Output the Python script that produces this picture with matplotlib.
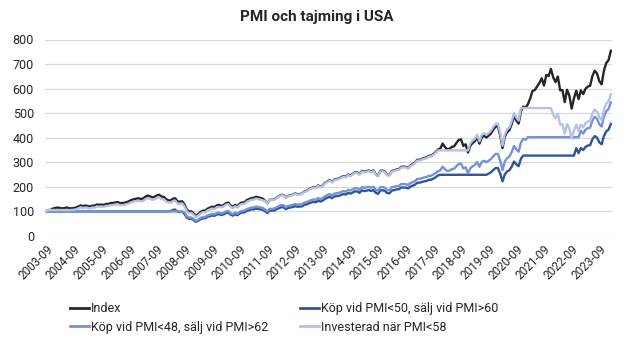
import numpy as np
import pandas as pd
import matplotlib
matplotlib.use("Agg")
import matplotlib.pyplot as plt
from matplotlib.lines import Line2D

# monthly values, 2003-09 .. 2024-02
start_month = "2003-09"

index_vals = [
    100.0, 105.7, 106.5, 112.2,
    114.3, 115.9, 114.2, 112.3, 114.0, 116.2, 112.4, 112.8, 114.1, 115.9, 120.5, 124.6,
    121.6, 124.2, 122.0, 119.7, 123.5, 123.6, 128.2, 127.0, 128.1, 126.0, 130.5, 130.7,
    134.3, 134.5, 136.2, 138.2, 134.0, 134.3, 135.3, 138.2, 141.9, 146.7, 149.3, 151.4,
    153.8, 150.6, 152.4, 159.2, 164.6, 161.9, 157.1, 159.2, 165.3, 167.9, 160.7, 159.6,
    150.2, 145.3, 144.6, 151.8, 153.6, 140.7, 139.5, 141.6, 128.8, 107.3, 99.4, 100.4,
    92.0, 82.1, 89.3, 97.8, 103.2, 103.3, 111.2, 115.2, 119.5, 117.3, 124.4, 126.7,
    122.3, 125.9, 133.6, 135.9, 124.8, 118.4, 126.8, 120.9, 131.8, 136.9, 136.9, 146.0,
    149.5, 154.5, 154.7, 159.4, 157.4, 154.9, 151.8, 143.5, 133.4, 147.9, 147.5, 149.0,
    155.7, 162.4, 167.7, 166.8, 156.5, 163.0, 165.4, 169.0, 173.3, 170.1, 170.9, 172.4,
    181.4, 183.7, 190.6, 194.4, 198.8, 196.0, 206.2, 200.1, 206.4, 215.9, 222.3, 227.8,
    220.2, 229.9, 231.9, 233.8, 239.2, 244.0, 240.8, 250.2, 246.7, 252.8, 259.5, 258.8,
    251.2, 265.4, 261.2, 263.9, 266.9, 261.8, 267.4, 251.1, 244.9, 265.5, 266.0, 261.8,
    249.1, 248.5, 265.3, 266.4, 270.9, 271.6, 281.8, 281.9, 281.9, 276.9, 286.8, 292.7,
    298.4, 309.9, 310.3, 313.6, 317.8, 319.7, 326.4, 327.1, 333.8, 341.7, 352.1, 356.0,
    376.5, 362.4, 353.2, 354.7, 362.9, 365.1, 378.8, 391.1, 393.3, 366.5, 373.5, 339.8,
    367.1, 378.4, 385.8, 401.7, 375.8, 402.3, 408.1, 401.3, 408.9, 417.9, 432.7, 445.7,
    445.7, 408.7, 358.1, 404.1, 423.0, 431.3, 455.8, 488.4, 470.1, 457.6, 507.7, 527.2,
    522.1, 536.4, 560.1, 590.2, 594.3, 608.4, 623.1, 642.1, 612.4, 655.6, 651.1, 680.4,
    645.6, 626.3, 649.5, 593.3, 594.1, 544.9, 595.5, 571.0, 518.4, 560.6, 591.5, 557.4,
    592.7, 578.0, 599.1, 608.6, 611.1, 651.4, 672.6, 661.7, 630.3, 617.3, 673.2, 704.0,
    716.1, 754.1,
]

pmi50_vals = (
    [100.0] * 52
    + [100.0, 100.0, 101.2, 106.3, 107.5, 98.5, 97.7, 99.1, 90.2, 75.1, 69.6, 70.3,
       64.4, 57.5, 62.5, 68.5, 72.2, 72.3, 77.8, 80.6, 83.7, 82.1, 87.1, 88.7,
       85.6, 88.1, 93.5, 95.1, 87.4, 82.9, 88.8, 84.6, 92.3, 95.8, 95.8, 102.2,
       104.7, 108.2, 108.3, 111.6, 110.2, 108.4, 106.3, 100.5, 93.4, 103.5, 103.3, 104.3,
       109.0, 113.7, 117.4, 116.8, 109.6, 114.1, 115.8, 118.3, 121.3, 119.1, 119.6, 120.7,
       127.0, 128.6, 133.4, 136.1, 139.2, 137.2, 144.3, 140.1, 144.5, 151.1, 155.6, 159.5,
       154.1, 160.9, 162.3, 163.7, 167.4, 170.8, 168.6, 175.1, 172.7, 177.0, 181.7, 181.2,
       175.8, 185.8, 182.8, 184.7, 186.8, 183.3, 187.2, 175.8, 171.4, 185.9, 186.2, 183.3,
       174.4, 174.0, 185.7, 186.5, 189.6, 190.1, 197.3, 197.3, 197.3, 193.8, 200.8, 204.9,
       208.9, 216.9, 217.2, 219.5, 222.5, 223.8, 228.5, 229.0, 233.7, 239.2, 246.5, 249.2]
    + [249.2] * 20
    + [253.9, 259.5, 268.7, 276.8,
       276.8, 253.8, 222.4, 250.9, 262.7, 267.8, 283.1, 303.3, 291.9, 284.2, 315.3, 327.4]
    + [327.4] * 22
    + [357.9, 337.2,
       358.6, 349.7, 362.5, 368.2, 369.7, 394.1, 406.9, 400.3, 381.3, 373.5, 407.3, 425.9,
       433.2, 456.2]
)

pmi48_vals = (
    [100.0] * 60
    + [96.6, 80.5, 74.6, 75.3,
       69.0, 61.6, 67.0, 73.4, 77.4, 77.5, 83.4, 86.4, 89.6, 88.0, 93.3, 95.0,
       91.7, 94.4, 100.2, 101.9, 93.6, 88.8, 95.1, 90.7, 98.9, 102.7, 102.7, 109.5,
       112.1, 115.9, 116.0, 119.6, 118.1, 116.2, 113.9, 107.6, 100.1, 110.9, 110.6, 111.8,
       116.8, 121.8, 125.8, 125.1, 117.4, 122.3, 124.1, 126.8, 130.0, 127.6, 128.2, 129.3,
       136.1, 137.8, 143.0, 145.8, 149.1, 147.0, 154.7, 150.1, 154.8, 161.9, 166.7, 170.9,
       165.2, 172.4, 173.9, 175.4, 179.4, 183.0, 180.6, 187.7, 185.0, 189.6, 194.6, 194.1,
       188.4, 199.1, 195.9, 197.9, 200.2, 196.4, 200.6, 188.3, 183.7, 199.1, 199.5, 196.4,
       186.8, 186.4, 199.0, 199.8, 203.2, 203.7, 211.4, 211.4, 211.4, 207.7, 215.1, 219.5,
       223.8, 232.4, 232.7, 235.2, 238.4, 239.8, 244.8, 245.3, 250.4, 256.3, 264.1, 267.0,
       282.4, 271.8, 264.9, 266.0, 272.2, 273.8, 284.1, 293.3, 295.0, 274.9, 280.1, 254.9,
       275.3, 283.8, 289.4, 301.3, 281.9, 301.7, 306.1, 301.0, 306.7, 313.4, 324.5, 334.3,
       334.3, 306.5, 268.6, 303.1, 317.3, 323.5, 341.9, 366.3, 352.6, 343.2, 380.8, 395.4,
       391.6, 402.3]
    + [402.3] * 22
    + [427.7, 417.1, 432.4, 439.2, 441.0, 470.1, 485.4, 477.5, 454.9, 445.5, 485.8, 508.1,
       516.8, 544.2]
)

pmi58_vals = (
    [100.0, 105.7, 105.7, 105.7]
    + [105.7] * 8
    + [106.9, 108.6, 112.9, 116.8,
       113.9, 116.4, 114.3, 112.2, 115.7, 115.8, 120.1, 119.0, 120.0, 118.1, 122.3, 122.5,
       125.8, 126.0, 127.6, 129.5, 125.6, 125.8, 126.8, 129.5, 133.0, 137.5, 139.9, 141.9,
       144.1, 141.1, 142.8, 149.2, 154.2, 151.7, 147.2, 149.2, 154.9, 157.3, 150.6, 149.5,
       140.7, 136.1, 135.5, 142.2, 143.9, 131.8, 130.7, 132.7, 120.7, 100.5, 93.1, 94.1,
       86.2, 76.9, 83.7, 91.6, 96.7, 96.8, 104.2, 107.9, 112.0, 109.9, 116.6, 118.7,
       116.8, 120.2, 127.6, 129.8, 119.2, 113.1, 121.1, 115.5, 125.9, 130.7, 130.7, 139.4,
       142.8, 147.5, 147.7, 152.2, 150.3, 147.9, 145.0, 142.1, 132.1, 146.4, 146.0, 147.5,
       154.1, 160.8, 166.0, 165.1, 154.9, 161.4, 163.7, 167.3, 171.6, 168.4, 169.2, 170.7,
       179.6, 181.9, 188.7, 192.5, 196.8, 194.0, 204.1, 198.1, 204.3, 213.7, 220.1, 225.5,
       218.0, 227.6, 229.6, 231.5, 236.8, 241.6, 238.4, 247.7, 244.2, 250.3, 256.9, 256.2,
       248.7, 262.7, 258.6, 261.3, 264.2, 259.2, 264.7, 248.6, 242.5, 262.8, 263.3, 259.2,
       246.6, 246.0, 262.6, 263.7, 268.2, 268.9, 279.0, 279.1, 279.1, 274.1, 283.9, 289.8,
       295.4, 306.8, 307.2, 310.5, 314.6, 316.5, 323.1, 323.8, 330.5, 338.3, 348.6, 348.6]
    + [348.6] * 12
    + [376.6, 388.2, 395.8, 412.1, 385.6, 412.8, 418.7, 411.7, 419.5, 428.8, 443.9, 457.3,
       457.3, 419.3, 367.4, 414.6, 434.0, 442.5, 467.7, 501.1, 482.3, 469.5, 520.9, 520.9]
    + [520.9] * 12
    + [494.3, 479.5, 497.3, 454.2, 454.8, 417.2, 455.9, 437.2, 396.9, 429.2, 452.9, 426.7,
       453.8, 442.5, 458.7, 465.9, 467.9, 498.7, 514.9, 506.6, 482.6, 472.6, 515.4, 539.0,
       548.2, 577.3]
)

labels = ["Index", "Köp vid PMI<50, sälj vid PMI>60",
          "Köp vid PMI<48, sälj vid PMI>62", "Investerad när PMI<58"]
colors = ["#262626", "#2f5597", "#7592d8", "#b4c1e8"]
title = "PMI och tajming i USA"

months = pd.period_range(start_month, periods=len(index_vals), freq="M")
x = np.arange(len(months))

plt.rcParams["font.family"] = ["Roboto", "DejaVu Sans"]

fig = plt.figure(figsize=(6.33, 3.42), dpi=100)
ax = fig.add_axes([45 / 633, 1 - 236 / 342, 567 / 633, 196.5 / 342])

series = [index_vals, pmi50_vals, pmi48_vals, pmi58_vals]
for vals, lab, col in zip(series, labels, colors):
    ax.plot(x, vals, color=col, lw=1.7, label=lab, solid_joinstyle="round")

ax.set_xlim(-0.5, len(x) - 0.5)
ax.set_ylim(0, 800)
ax.set_yticks(range(0, 801, 100))
ax.grid(axis="y", color="#d9d9d9", lw=0.9)
ax.set_axisbelow(True)
for s in ax.spines.values():
    s.set_visible(False)

tick_pos = x[::12]
ax.set_xticks(tick_pos)
ax.set_xticklabels([str(months[i]) for i in tick_pos], rotation=45,
                   ha="right", rotation_mode="anchor")
ax.tick_params(axis="x", length=0, pad=5, labelsize=8.5, colors="#262626")
ax.tick_params(axis="y", length=0, pad=8, labelsize=9, colors="#262626")

fig.suptitle(title, x=0.5, y=0.972, fontsize=11, fontweight="bold", color="#262626")

handles = [Line2D([], [], color=c, lw=2) for c in colors]
leg_kw = dict(frameon=False, fontsize=9, handlelength=1.5, handletextpad=0.2,
              labelspacing=0.45, borderpad=0, borderaxespad=0, labelcolor="#262626")
fig.legend([handles[0], handles[2]], [labels[0], labels[2]], loc="upper left",
           bbox_to_anchor=(70 / 633, 1 - 302 / 342), **leg_kw)
fig.legend([handles[1], handles[3]], [labels[1], labels[3]], loc="upper left",
           bbox_to_anchor=(300 / 633, 1 - 302 / 342), **leg_kw)

fig.savefig("out.png", dpi=100)
